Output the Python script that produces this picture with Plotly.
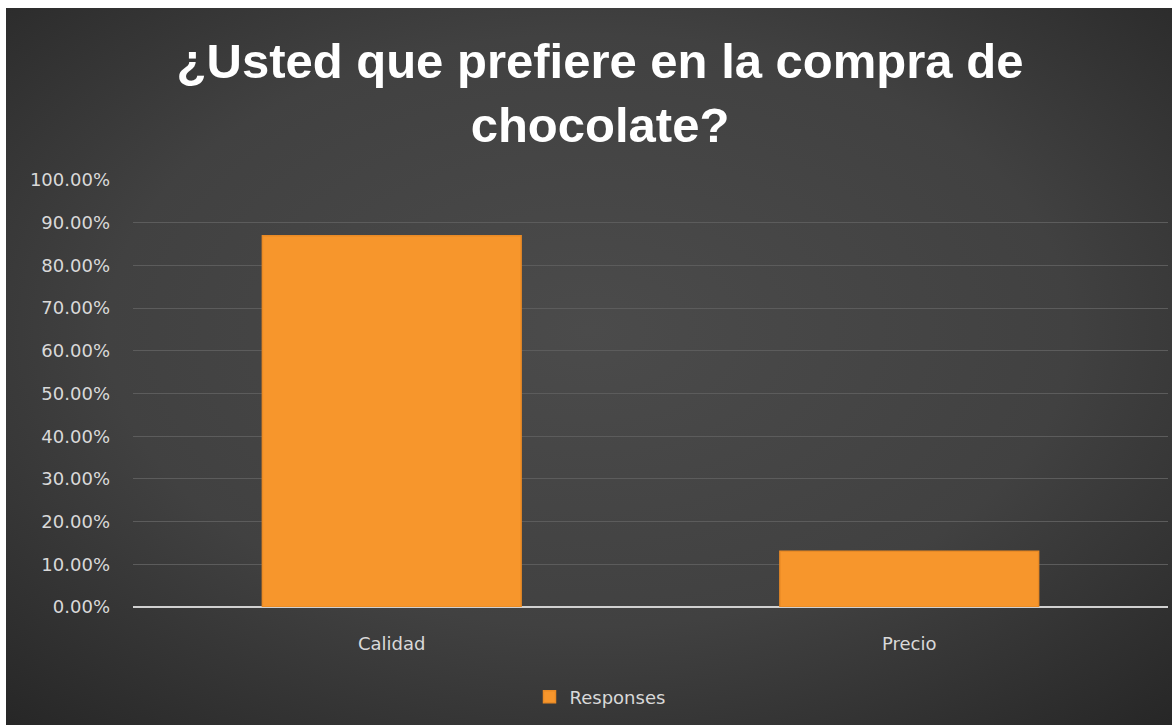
import base64
import plotly.graph_objects as go

# Survey results
categories = ["Calidad", "Precio"]
responses = [0.8696, 0.1304]
series_name = "Responses"
title_text = "<b>¿Usted que prefiere en la compra de<br>chocolate?</b>"

W, H = 1172, 725
L, R, T, B = 133, 4, 180, 118

# dark radial backdrop drawn as an SVG gradient
svg = f"""<svg xmlns='http://www.w3.org/2000/svg' width='1166' height='717' viewBox='0 0 1166 717'>
<defs><radialGradient id='g' cx='0.5' cy='0.45' r='0.75'>
<stop offset='0' stop-color='#4b4b4b'/><stop offset='0.55' stop-color='#414141'/>
<stop offset='1' stop-color='#262626'/></radialGradient></defs>
<rect width='1166' height='717' fill='url(#g)'/></svg>"""
bg_src = "data:image/svg+xml;base64," + base64.b64encode(svg.encode()).decode()

pw, ph = W - L - R, H - T - B
def px_x(px):
    return (px - L) / pw
def px_y(py):
    return (H - B - py) / ph

label_font = dict(family="DejaVu Sans, Verdana", size=18, color="#d9d9d9")

fig = go.Figure()
fig.add_trace(go.Bar(
    x=categories, y=responses, name=series_name,
    marker=dict(color="#f7962c", line=dict(color="#e98a25", width=1.5)),
    showlegend=True,
))

fig.update_layout(
    width=W, height=H,
    margin=dict(l=L, r=R, t=T, b=B),
    paper_bgcolor="white",
    plot_bgcolor="rgba(0,0,0,0)",
    bargap=0.5,
    title=dict(text=title_text, x=600 / W, xanchor="center", y=1 - 78 / H, yanchor="middle",
               font=dict(family="Liberation Sans, Arial", size=49, color="white")),
    font=label_font,
    xaxis=dict(showgrid=False, showline=False, ticks="", ticklabelstandoff=24, tickfont=label_font),
    yaxis=dict(range=[0, 1], dtick=0.1, tickformat=".2%", gridcolor="#5c5c5c", gridwidth=1,
               zeroline=True, zerolinecolor="#d0d0d0", zerolinewidth=1.5,
               ticks="", ticklabelstandoff=22, tickfont=label_font),
    legend=dict(orientation="h", x=600 / W, xanchor="center", xref="container",
                y=1 - 697 / H, yanchor="middle", yref="container",
                font=label_font, bgcolor="rgba(0,0,0,0)"),
    images=[dict(source=bg_src, xref="paper", yref="paper",
                 x=px_x(6), y=px_y(8), sizex=px_x(W) - px_x(6), sizey=px_y(8) - px_y(H),
                 xanchor="left", yanchor="top", sizing="stretch", layer="below")],
)

fig.write_html("out.html")
